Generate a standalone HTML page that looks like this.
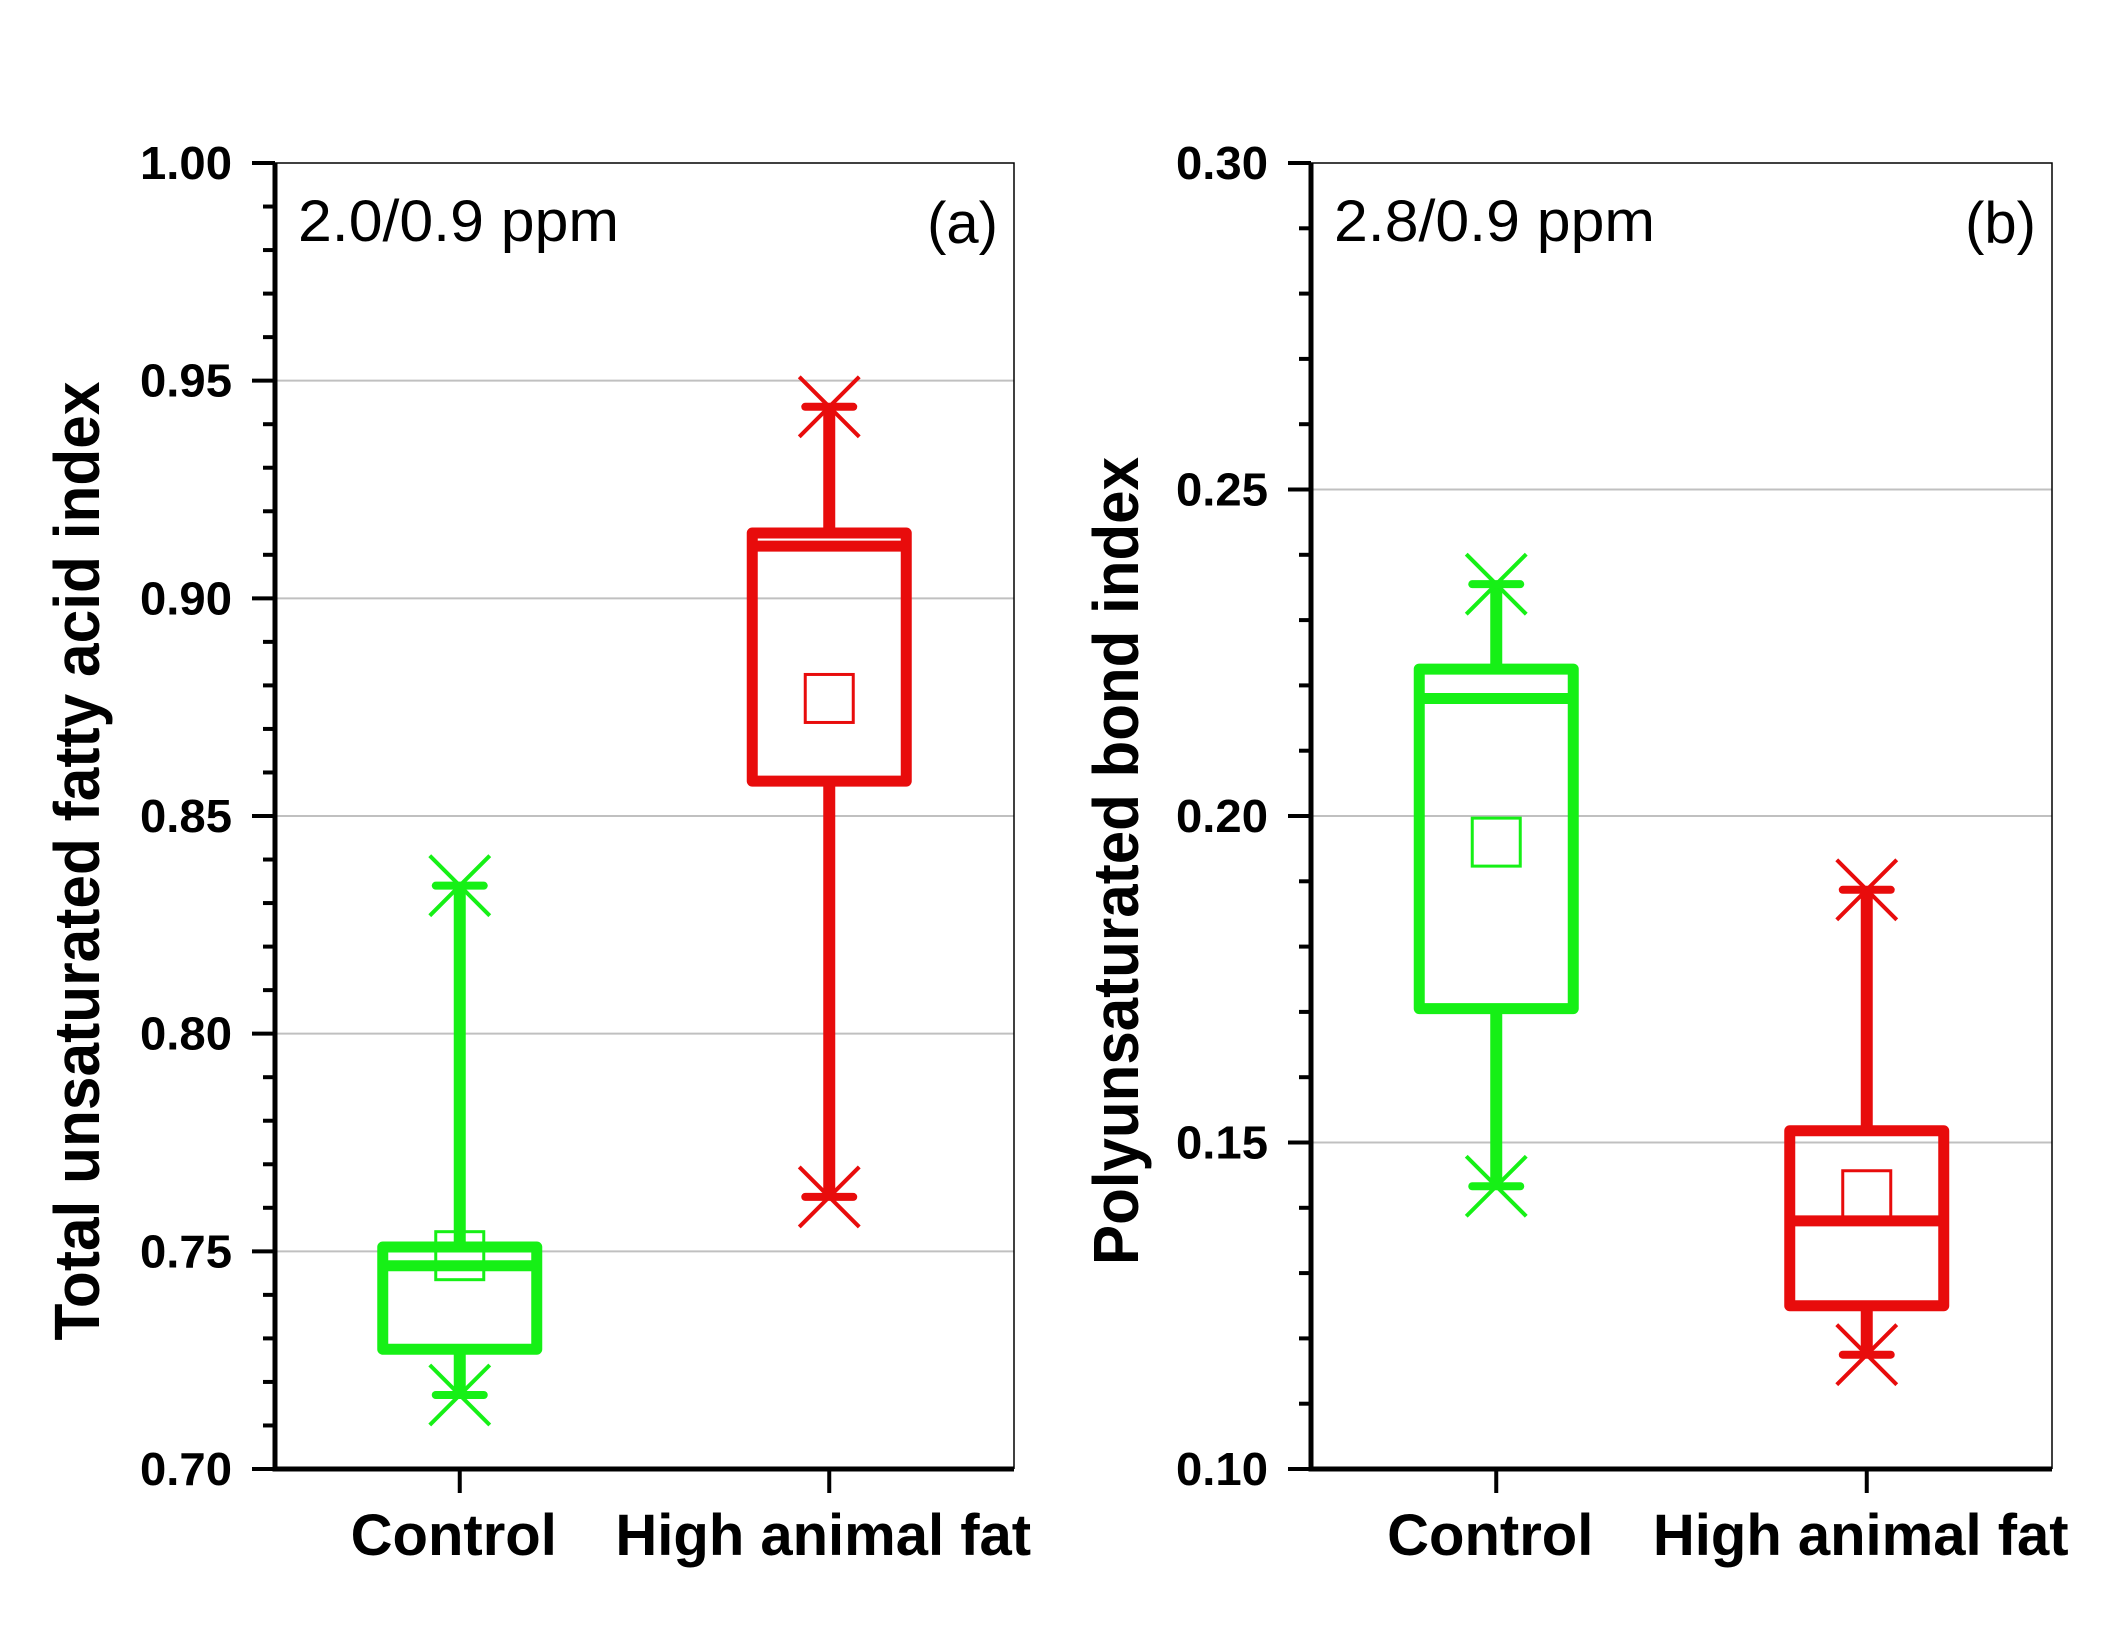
<!DOCTYPE html>
<html><head><meta charset="utf-8"><style>html,body{margin:0;padding:0;background:#fff}svg{display:block}</style></head>
<body>
<svg id="chart" width="2112" height="1631" viewBox="0 0 2112 1631" xmlns="http://www.w3.org/2000/svg" font-family="Liberation Sans, Arial, sans-serif"></svg>
<script>
const categories = ["Control", "High animal fat"];
// panel a: [min, q1, median, q3, max, mean]
const panelAMin = [0.717, 0.7625];
const panelAQ1 = [0.7275, 0.858];
const panelAMedian = [0.7467, 0.912];
const panelAQ3 = [0.751, 0.915];
const panelAMax = [0.834, 0.944];
const panelAMean = [0.749, 0.877];
const panelATicks = ["0.70","0.75","0.80","0.85","0.90","0.95","1.00"];
// panel b
const panelBMin = [0.1433, 0.1175];
const panelBQ1 = [0.1705, 0.125];
const panelBMedian = [0.218, 0.138];
const panelBQ3 = [0.2225, 0.1518];
const panelBMax = [0.2355, 0.1887];
const panelBMean = [0.196, 0.142];
const panelBTicks = ["0.10","0.15","0.20","0.25","0.30"];
const colors = ["#16f016", "#e80c0c"];

const NS = "http://www.w3.org/2000/svg";
const svg = document.getElementById("chart");
function mk(tag, attrs, parent) {
  const e = document.createElementNS(NS, tag);
  for (const k in attrs) e.setAttribute(k, attrs[k]);
  (parent || svg).appendChild(e);
  return e;
}

function panel(cfg) {
  const g = mk("g", {});
  
  
  const L = cfg.left, R = cfg.right, T = 163, B = 1469;
  const y = v => B - (v - cfg.ymin) / (cfg.ymax - cfg.ymin) * (B - T);
  const x = i => L + (R - L) * (0.25 + 0.5 * i);
  cfg.ticks.forEach((t, i) => {
    const v = parseFloat(t);
    if (i > 0 && i < cfg.ticks.length - 1) {
      const gl = mk("line", {x1: L, x2: R, y1: y(v), y2: y(v), stroke: "#c0c0c0", "stroke-width": 2}, g);
      
      
    }
  });
  const fr = mk("path", {d: `M${L},${T} H${R} V${B}`, fill: "none", stroke: "#000", "stroke-width": 1.5}, g);
  
  
  const step = 0.01;
  const n = Math.round((cfg.ymax - cfg.ymin) / step);
  for (let k = 0; k <= n; k++) {
    const v = cfg.ymin + k * step;
    const major = k % 5 === 0;
    const tk = mk("line", {x1: L - (major ? 23 : 12), x2: L, y1: y(v), y2: y(v), stroke: "#000", "stroke-width": 4}, g);
    
    
  }
  cfg.ticks.forEach(t => {
    const tl = mk("text", {x: L - 43, y: y(parseFloat(t)) + 16, "text-anchor": "end", "font-size": 46, "font-weight": "bold", textLength: 92, lengthAdjust: "spacingAndGlyphs"}, g);
    tl.textContent = t;
    
    
  });
  const ax = mk("path", {d: `M${L},${T} V${B} H${R}`, fill: "none", stroke: "#000", "stroke-width": 5}, g);
  
  
  categories.forEach((c, i) => {
    const cx = x(i), col = colors[i];
    const xt = mk("line", {x1: cx, x2: cx, y1: B, y2: B + 24, stroke: "#000", "stroke-width": 4}, g);
    
    
    const cl = mk("text", {x: cx - 6, y: 1555, "text-anchor": "middle", "font-size": 58, "font-weight": "bold"}, g);
    cl.textContent = c;
    
    
    const bg = mk("g", {}, g);
    
    
    const w = 77;
    mk("line", {x1: cx, x2: cx, y1: y(cfg.max[i]), y2: y(cfg.q3[i]), stroke: col, "stroke-width": 12}, bg);
    mk("line", {x1: cx, x2: cx, y1: y(cfg.q1[i]), y2: y(cfg.min[i]), stroke: col, "stroke-width": 12}, bg);
    mk("rect", {x: cx - w, y: y(cfg.q3[i]), width: 2 * w, height: y(cfg.q1[i]) - y(cfg.q3[i]), fill: "none", stroke: col, "stroke-width": 11, "stroke-linejoin": "round"}, bg);
    mk("line", {x1: cx - w, x2: cx + w, y1: y(cfg.med[i]), y2: y(cfg.med[i]), stroke: col, "stroke-width": 11}, bg);
    const s = 24;
    const mr = mk("rect", {x: cx - s, y: y(cfg.mean[i]) - s, width: 2 * s, height: 2 * s, fill: "none", stroke: col, "stroke-width": 3}, bg);
    
    
    [cfg.min[i], cfg.max[i]].forEach(v => {
      const yy = y(v);
      mk("path", {d: `M${cx-30},${yy-30} L${cx+30},${yy+30} M${cx+30},${yy-30} L${cx-30},${yy+30}`, stroke: col, "stroke-width": 4, fill: "none"}, bg);
      mk("line", {x1: cx - 24, x2: cx + 24, y1: yy, y2: yy, stroke: col, "stroke-width": 8, "stroke-linecap": "round"}, bg);
    });
  });
  const an = mk("text", {x: L + 23, y: 241, "font-size": 58, textLength: 321, lengthAdjust: "spacingAndGlyphs"}, g);
  an.textContent = cfg.annot;
  
  
  const lb = mk("text", {x: R - 16, y: 243, "font-size": 58, "text-anchor": "end"}, g);
  lb.textContent = cfg.label;
  
  
  const yt = mk("text", {x: 0, y: 0, "font-size": 64, "font-weight": "bold", "text-anchor": "middle", textLength: cfg.titleLen, lengthAdjust: "spacingAndGlyphs", transform: `translate(${cfg.titleX},861) rotate(-90)`}, g);
  yt.textContent = cfg.title;
  
  
}

panel({name: "panel-a", left: 275, right: 1014, ymin: 0.70, ymax: 1.00, ticks: panelATicks,
  min: panelAMin, q1: panelAQ1, med: panelAMedian, q3: panelAQ3, max: panelAMax, mean: panelAMean,
  annot: "2.0/0.9 ppm", label: "(a)", title: "Total unsaturated fatty acid index", titleX: 99, titleLen: 959});
panel({name: "panel-b", left: 1311, right: 2052, ymin: 0.10, ymax: 0.30, ticks: panelBTicks,
  min: panelBMin, q1: panelBQ1, med: panelBMedian, q3: panelBQ3, max: panelBMax, mean: panelBMean,
  annot: "2.8/0.9 ppm", label: "(b)", title: "Polyunsaturated bond index", titleX: 1138, titleLen: 808});
</script>
</body></html>
